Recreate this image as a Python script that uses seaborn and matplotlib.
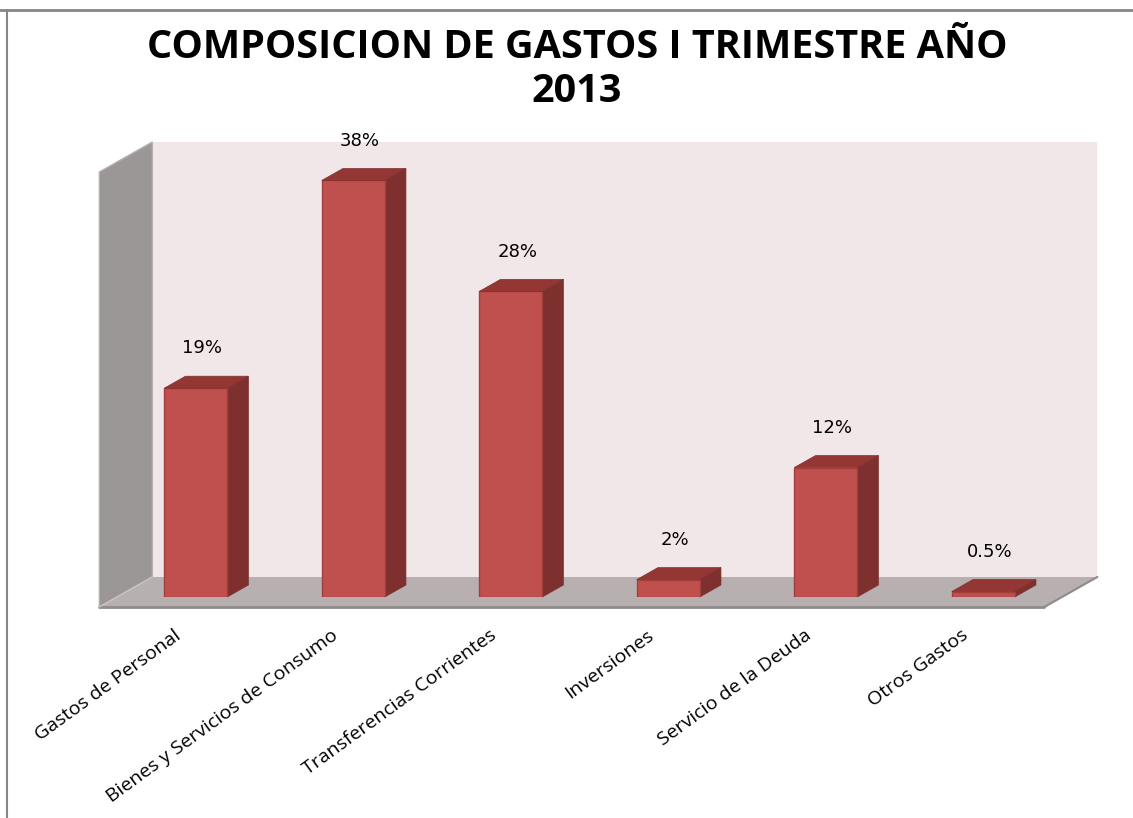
import numpy as np
import pandas as pd
import seaborn as sns
import matplotlib.pyplot as plt
from matplotlib.patches import Polygon
from matplotlib.lines import Line2D
from matplotlib.transforms import ScaledTranslation

# ==============================
# Data
# ==============================
categorias = ["Gastos de Personal", "Bienes y Servicios de Consumo",
              "Transferencias Corrientes", "Inversiones",
              "Servicio de la Deuda", "Otros Gastos"]
porcentajes = [19.2, 38.3, 28.1, 1.6, 11.9, 0.5]
etiquetas = ["19%", "38%", "28%", "2%", "12%", "0.5%"]
titulo = ["COMPOSICION DE GASTOS I TRIMESTRE AÑO", "2013"]

df = pd.DataFrame({"categoria": categorias, "porcentaje": porcentajes})

# ==============================
# Style / colours
# ==============================
sns.set_style("white")
plt.rcParams["font.family"] = ["DejaVu Sans"]
plt.rcParams["text.color"] = "black"

rojo = "#C0504D"
rojo_borde = "#A13F3C"
rojo_lado = "#7E302E"
rojo_top = "#943634"
pared_fondo = "#F2E7E8"
pared_lado = "#9C9797"
piso = "#B8B0B0"

W, H = 1133, 818
fig = plt.figure(figsize=(W / 100, H / 100), dpi=100)

# axes = front plane of the bars (pixel box)
left_px, right_px, top_px, base_px = 117.0, 1062.0, 162.0, 597.0
ax = fig.add_axes([left_px / W, 1 - base_px / H,
                   (right_px - left_px) / W, (base_px - top_px) / H])
ax.patch.set_visible(False)

sns.barplot(data=df, x="categoria", y="porcentaje", color=rojo, saturation=1,
            width=0.4, edgecolor=rojo_borde, linewidth=1, ax=ax, zorder=5)
bars = list(ax.patches)

ymax = 40
ax.set_xlim(-0.5, len(categorias) - 0.5)
ax.set_ylim(0, ymax)

# depth vector (full floor depth) in data units
px_x = (right_px - left_px) / len(categorias)
px_y = (base_px - top_px) / ymax
Dx, Dy = 53 / px_x, 30 / px_y
z0, zb = 1 / 3, 0.4          # bar front depth and bar depth
bx, by = (1 - z0) * Dx, (1 - z0) * Dy   # back plane offset
fx, fy = -z0 * Dx, -z0 * Dy             # front plane offset
x0, x1 = -0.5, len(categorias) - 0.5

# walls and floor
back = Polygon([(x0 + bx, by), (x1 + bx, by), (x1 + bx, ymax + by), (x0 + bx, ymax + by)],
               closed=True, facecolor=pared_fondo, edgecolor="none", zorder=0, clip_on=False)
side = Polygon([(x0 + fx, fy), (x0 + bx, by), (x0 + bx, ymax + by), (x0 + fx, ymax + fy)],
               closed=True, facecolor=pared_lado, edgecolor="#B5B1B1", linewidth=1,
               zorder=1, clip_on=False)
floor = Polygon([(x0 + fx, fy), (x1 + fx, fy), (x1 + bx, by), (x0 + bx, by)],
                closed=True, facecolor=piso, edgecolor="none", zorder=1, clip_on=False)
for p in (back, side, floor):
    ax.add_patch(p)
ax.plot([x0 + fx, x1 + fx], [fy, fy], color="#8F8B8B", lw=2, zorder=2, clip_on=False)
ax.plot([x1 + fx, x1 + bx], [fy, by], color="#8F8B8B", lw=1.5, zorder=2, clip_on=False)
ax.plot([x0 + fx, x0 + bx], [fy, by], color="#C9C4C4", lw=1, zorder=2, clip_on=False)

# 3D faces for every bar drawn by seaborn
ddx, ddy = zb * Dx, zb * Dy
for bar, lab in zip(bars, etiquetas):
    xa, w, h = bar.get_x(), bar.get_width(), bar.get_height()
    xb = xa + w
    ax.add_patch(Polygon([(xb, 0), (xb + ddx, ddy), (xb + ddx, h + ddy), (xb, h)],
                         closed=True, facecolor=rojo_lado, edgecolor=rojo_lado,
                         linewidth=0.5, zorder=4, clip_on=False))
    ax.add_patch(Polygon([(xa, h), (xb, h), (xb + ddx, h + ddy), (xa + ddx, h + ddy)],
                         closed=True, facecolor=rojo_top, edgecolor=rojo_lado,
                         linewidth=0.5, zorder=6, clip_on=False))
    ax.annotate(lab, xy=(xa + w / 2 + ddx / 2, h + ddy), xytext=(-3, 20),
                textcoords="offset points", ha="center", va="center",
                fontsize=13, color="black", zorder=7)

# category labels
ax.set_xlabel("")
ax.set_ylabel("")
ax.set_yticks([])
ax.tick_params(axis="x", length=0, pad=21, labelcolor="black")
ax.set_xticks(range(len(categorias)))
ax.set_xticklabels(categorias, rotation=36, ha="right", va="top",
                   rotation_mode="anchor", fontsize=14, family=["Open Sans", "DejaVu Sans"])
shift = ScaledTranslation(-0.22, 0, fig.dpi_scale_trans)
for t in ax.get_xticklabels():
    t.set_transform(t.get_transform() + shift)
sns.despine(ax=ax, left=True, bottom=True)

# title
fig.text(577 / W, 1 - 47 / H, titulo[0], ha="center", va="center", color="black",
         fontsize=28.5, fontweight="bold", family=["Open Sans", "DejaVu Sans"])
fig.text(577 / W, 1 - 92 / H, titulo[1], ha="center", va="center", color="black",
         fontsize=28.5, fontweight="bold", family=["Open Sans", "DejaVu Sans"])

# chart border (top and left edges visible)
fig.add_artist(Line2D([0, 1], [1 - 10 / H, 1 - 10 / H], color="#868686", lw=2,
                      transform=fig.transFigure))
fig.add_artist(Line2D([7 / W, 7 / W], [0, 1 - 10 / H], color="#868686", lw=1.5,
                      transform=fig.transFigure))

fig.savefig("out.png", dpi=100)
